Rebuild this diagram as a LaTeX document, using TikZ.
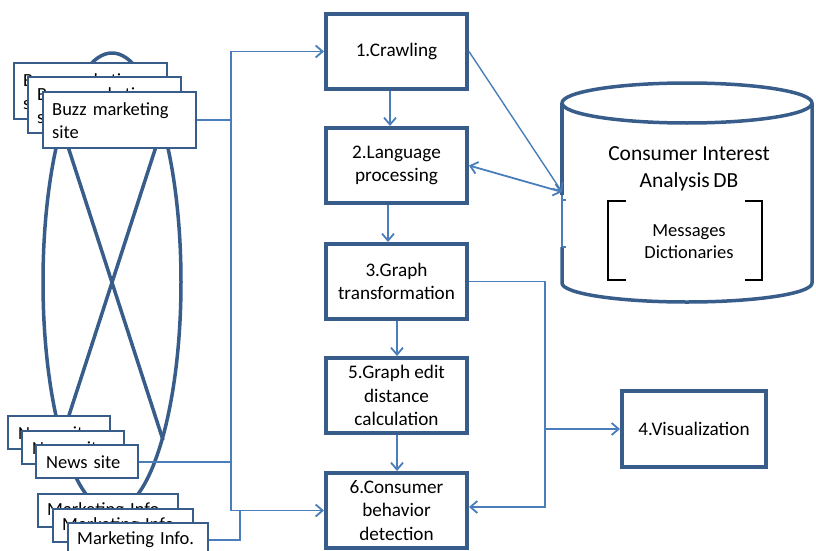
\documentclass[tikz,border=0pt]{standalone}
\usepackage{fontspec}
\setmainfont{Carlito}
\usetikzlibrary{arrows.meta}
\definecolor{boxblue}{HTML}{385D8A}
\definecolor{linkblue}{HTML}{4A7EBB}

\begin{document}
\begin{tikzpicture}[x=1pt,y=-1pt,
  stagebox/.style={draw=boxblue, line width=4pt, fill=white, minimum width=141pt,
    minimum height=75pt, inner sep=0pt, align=center,
    font=\fontsize{19.2}{23.5}\selectfont},
  srcbox/.style={draw=boxblue, line width=2.4pt, fill=white, anchor=north west,
    inner ysep=0pt, align=left, font=\fontsize{18.5}{23}\selectfont},
  buzzbox/.style={srcbox, text width=135pt, inner xsep=9pt, minimum height=56pt},
  newsbox/.style={srcbox, text width=82pt, inner xsep=10pt, minimum height=33pt},
  mktbox/.style={srcbox, text width=122pt, inner xsep=9pt, minimum height=33pt},
  outline/.style={draw=boxblue, line width=3.5pt, line join=round},
  link/.style={draw=linkblue, line width=1.8pt},
  tip/.style={-{Straight Barb[length=7pt,width=12pt]}},
  bothtips/.style={{Straight Barb[length=7pt,width=12pt]}-{Straight Barb[length=7pt,width=12pt]}},
]
\useasboundingbox (0,0) rectangle (816,551);

% web of sources: ellipse with crossing chords
\draw[outline] (112,282) ellipse [x radius=69pt, y radius=229pt];
\draw[outline] (61,125) -- (163,440);
\draw[outline] (163,125) -- (61,440);

% stacked source cards
\node[buzzbox] (buzz1) at (13,62) {Buzz marketing\\site};
\node[buzzbox] (buzz2) at (27,76) {Buzz marketing\\site};
\node[buzzbox] (buzz3) at (42,91) {Buzz marketing\\site};

\node[newsbox] (news1) at (7,415) {News site};
\node[newsbox] (news2) at (21,430) {News site};
\node[newsbox] (news3) at (35,444) {News site};

\node[mktbox] (mkt1) at (37,493) {Marketing Info.};
\node[mktbox] (mkt2) at (52,508) {Marketing Info.};
\node[mktbox] (mkt3) at (67,522) {Marketing Info.};

% processing stages
\node[stagebox] (b1) at (396.5,51.5) {1.Crawling};
\node[stagebox] (b2) at (396.5,165.5) {2.Language\\processing};
\node[stagebox] (b3) at (396.5,281.5) {3.Graph\\transformation};
\node[stagebox] (b5) at (396.5,395.5) {5.Graph edit\\distance\\calculation};
\node[stagebox] (b6) at (396.5,510.5) {6.Consumer\\behavior\\detection};
\node[stagebox, minimum width=144pt, minimum height=76pt] (b4) at (694,429) {4.Visualization};

% database cylinder
\draw[outline] (562,195) -- (562,103);
\draw[outline] (562,247) -- (562,283)
  arc [start angle=180, end angle=360, x radius=125pt, y radius=19pt] -- (812,103);
\draw[outline] (687,103) ellipse [x radius=125pt, y radius=20pt];
\draw[link, line width=1.5pt] (562,195) -- (562,247);
\draw[link, line width=1.5pt] (562,200) -- (566,200);
\draw[link, line width=1.5pt] (562,247) -- (566,247);
\coordinate (dbin) at (562,192);

\node[font=\fontsize{21.5}{27.5}\selectfont, align=center] (dbtitle) at (689,169)
  {Consumer Interest\\Analysis\,DB};
\node[font=\fontsize{18.5}{22}\selectfont, align=center] (dbcontent) at (689,242)
  {Messages\\Dictionaries};
\draw[black, line width=1.8pt] (626,201) -- (608,201) -- (608,280) -- (626,280);
\draw[black, line width=1.8pt] (745,201) -- (762,201) -- (762,280) -- (745,280);

% flow between stages
\draw[link, tip] ([xshift=-6.5pt]b1.south) -- ([xshift=-6.5pt]b2.north);
\draw[link, tip] ([xshift=-8.5pt]b2.south) -- ([xshift=-8.5pt]b3.north);
\draw[link, tip] ([xshift=0.5pt]b3.south) -- ([xshift=0.5pt]b5.north);
\draw[link, tip] ([xshift=0.5pt]b5.south) -- ([xshift=0.5pt]b6.north);

% links to the database
\draw[link, tip, line width=1.4pt] (b1.east) -- (dbin);
\draw[link, bothtips] (b2.east) -- (dbin);

% input bus on the left
\coordinate (lbus) at (231,0);
\coordinate (mbus) at (240,0);
\draw[link] (buzz3.east) -- (buzz3.east -| lbus);
\draw[link] (news3.east) -- (news3.east -| lbus);
\draw[link] (mkt3.east) -| (mbus |- b6.west);
\draw[link, tip] (lbus |- b6.west) |- (b1.west);
\draw[link, tip] (lbus |- b1.west) |- (b6.west);

% output bus on the right
\coordinate (rbus) at (545,0);
\coordinate (b6in) at ([yshift=3.5pt]b6.east);
\draw[link, tip] (b3.east) -| (rbus |- b6in) -- (b6in);
\draw[link, tip] (rbus |- b4.west) -- (b4.west);
\end{tikzpicture}
\end{document}
